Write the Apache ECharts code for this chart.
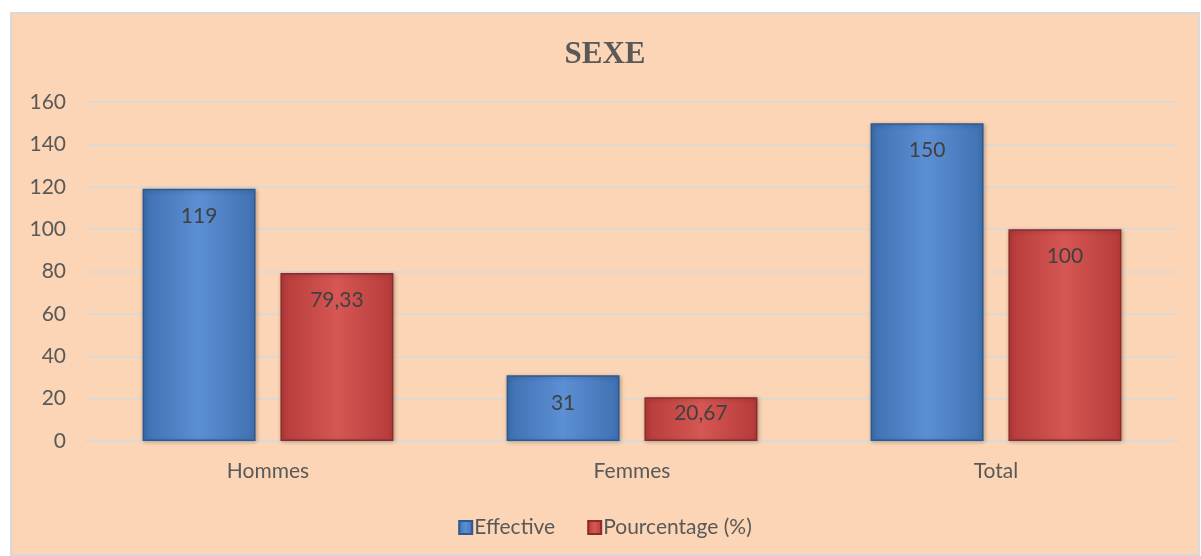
<!DOCTYPE html>
<html><head><meta charset="utf-8">
<script src="https://cdn.jsdelivr.net/npm/echarts@6/dist/echarts.min.js"></script>
<style>html,body{margin:0;padding:0;background:#fff}#c{position:absolute;left:10px;top:12px;width:1190px;height:544px;box-sizing:border-box;border:2px solid #d9d9d9;background:#FBD5B5}</style>
</head><body><div id="c"></div>
<script>
const categories = ['Hommes', 'Femmes', 'Total'];
const effective = [119, 31, 150];
const pourcentage = [79.33, 20.67, 100];
const seriesNames = ['Effective', 'Pourcentage (%)'];
const fmt = v => String(v).replace('.', ',');
const chart = echarts.init(document.getElementById('c'));
const grad = (a, b, c) => new echarts.graphic.LinearGradient(0, 0, 1, 0, [{offset:0,color:a},{offset:0.5,color:b},{offset:1,color:c}]);
const font = 'Lato, "Open Sans", sans-serif';
const lbl = { show: true, position: 'insideTop', distance: 17, formatter: p => fmt(p.value), fontFamily: font, fontSize: 21, color: '#404040' };
chart.setOption({
  animation: false,
  backgroundColor: '#FBD5B5',
  title: { text: 'SEXE', left: 'center', top: 20, textStyle: { fontFamily: '"Liberation Serif", serif', fontWeight: 'bold', fontSize: 31, color: '#595959' } },
  grid: { left: 74, right: 20, top: 88, bottom: 113 },
  legend: { bottom: 11, left: 'center', itemWidth: 13, itemHeight: 13, itemGap: 32, textStyle: { fontFamily: font, fontSize: 21, color: '#595959', padding: [0,0,0,-3] }, data: seriesNames.map(n=>({name:n, icon:'rect'})) },
  xAxis: { type: 'category', data: categories, axisLine: { lineStyle: { color: '#d9d9d9', width: 2 } }, axisTick: { show: false }, axisLabel: { fontFamily: font, fontSize: 21, color: '#595959', margin: 20 } },
  yAxis: { type: 'value', min: 0, max: 160, interval: 20, axisLine: { show: false }, axisTick: { show: false }, splitLine: { lineStyle: { color: '#d9d9d9', width: 1.5 } }, axisLabel: { fontFamily: font, fontSize: 21, color: '#595959', margin: 20 } },
  series: [
    { name: seriesNames[0], type: 'bar', data: effective, barWidth: 113, barGap: '22%',
      itemStyle: { color: grad('#3f70b2', '#5c8fd3', '#3f70b2'), borderColor: '#2f5a8f', borderWidth: 1.5, shadowColor: 'rgba(0,0,0,0.25)', shadowBlur: 4, shadowOffsetX: 1, shadowOffsetY: 1 },
      label: lbl },
    { name: seriesNames[1], type: 'bar', data: pourcentage.map(v => v < 30 ? { value: v, label: { distance: 6 } } : v), barWidth: 113,
      itemStyle: { color: grad('#b53b39', '#d65754', '#b53b39'), borderColor: '#8c2b29', borderWidth: 1.5, shadowColor: 'rgba(0,0,0,0.25)', shadowBlur: 4, shadowOffsetX: 1, shadowOffsetY: 1 },
      label: lbl }
  ]
});
</script></body></html>
